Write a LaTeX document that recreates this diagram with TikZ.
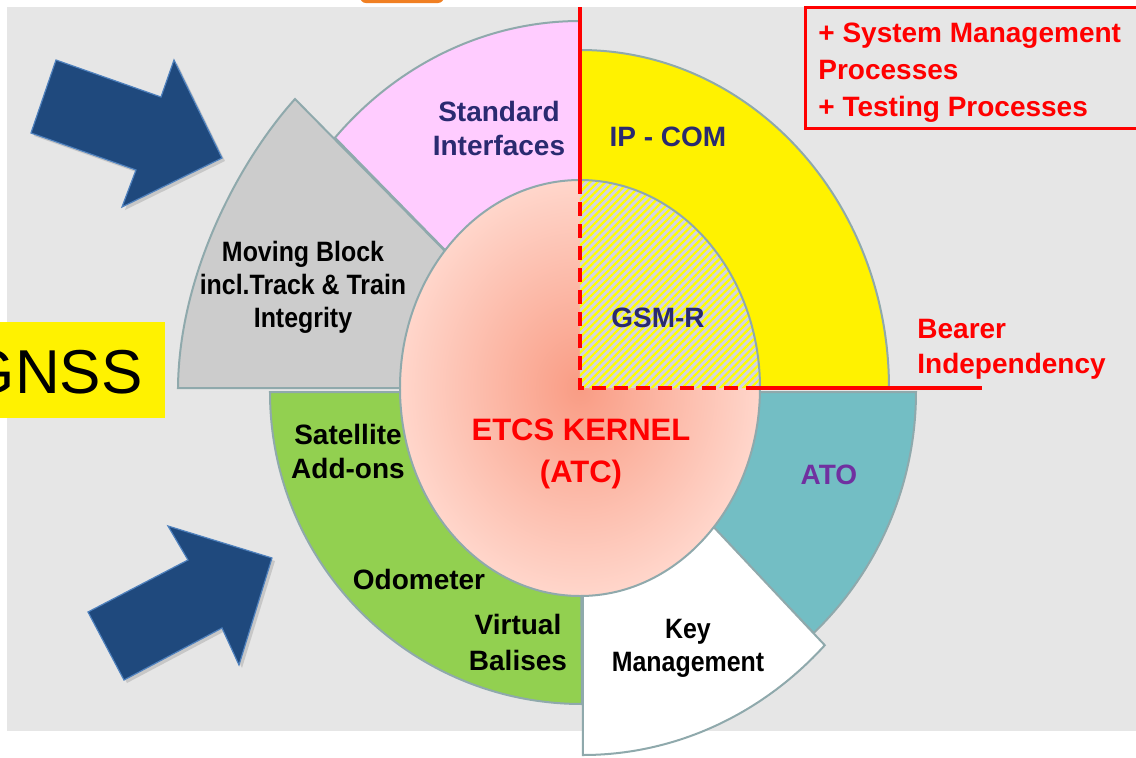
\documentclass[tikz,border=0pt]{standalone}
\usepackage{fontspec}
\setmainfont{Liberation Sans}
\newfontfamily\narrowsans{Liberation Sans}[FakeStretch=0.89]
\usetikzlibrary{patterns.meta,shadows}

\definecolor{panel}{HTML}{E6E6E6}
\definecolor{rim}{HTML}{8FA9AC}
\definecolor{stdpink}{HTML}{FFCCFF}
\definecolor{mbgray}{HTML}{CCCCCC}
\definecolor{satgreen}{HTML}{92D050}
\definecolor{atoteal}{HTML}{73BEC4}
\definecolor{gsmback}{HTML}{D4D4E2}
\definecolor{kernin}{HTML}{F99C84}
\definecolor{kernout}{HTML}{FFD6CB}
\definecolor{navy}{HTML}{2A2A70}
\definecolor{atopurple}{HTML}{7030A0}
\definecolor{arrowblue}{HTML}{1F497D}
\definecolor{arrowrim}{HTML}{4F81BD}
\definecolor{tabor}{HTML}{F07F22}

\begin{document}
\begin{tikzpicture}[x=0.5pt,y=0.5pt,
	sector/.style={draw=rim,line width=1pt},
	seglabel/.style={font=\fontsize{14}{17}\selectfont\bfseries,align=center,inner sep=0pt},
	redtext/.style={font=\fontsize{14}{18.5}\selectfont\bfseries,text=red,align=left,inner sep=0pt},
	bearer/.style={red,line width=2pt},
	bigarrow/.style={fill=arrowblue,draw=arrowrim,line width=0.6pt,
		drop shadow={shadow xshift=1.5pt,shadow yshift=-1.5pt,opacity=0.3}}]
	\clip (-580,-369) rectangle (556,388);
	\fill[white] (-580,-369) rectangle (556,388);
	\fill[panel] (-573,381) rectangle (556,-343);
	\fill[tabor,rounded corners=3pt] (-220,396) rectangle (-136,385);

	% outer ring
	\draw[sector,fill=satgreen] (0,-4) -- (-310,-4) arc[start angle=180,end angle=270,radius=312] -- cycle;
	\draw[sector,fill=atoteal] (0,-4) -- (336,-4) arc[start angle=0,end angle=-46,radius=335] -- cycle;
	\draw[sector,fill=white] (3,0) -- ++(-44.5:339 and 367) arc[start angle=-44.5,end angle=-90,x radius=339,y radius=367] -- cycle;
	\draw[sector,fill=yellow] (0,0) -- (309,0) arc[start angle=0,end angle=90,x radius=309,y radius=338] -- cycle;
	\draw[sector,fill=stdpink] (0,0) -- (0,367) arc[start angle=90,end angle=137,x radius=335,y radius=367] -- cycle;
	\draw[sector,fill=mbgray] (0,0) -- (-402,0) .. controls (-401,115) and (-340,228) .. (-285,289) -- cycle;

	% kernel
	\shade[inner color=kernin,outer color=kernout] (0,0) ellipse[x radius=180,y radius=208];
	\fill[gsmback] (0,0) -- (180,0) arc[start angle=0,end angle=90,x radius=180,y radius=208] -- cycle;
	\fill[pattern={Lines[angle=45,distance=2.7pt,line width=1.1pt]},pattern color=yellow] (0,0) -- (180,0) arc[start angle=0,end angle=90,x radius=180,y radius=208] -- cycle;
	\draw[sector] (0,0) ellipse[x radius=180,y radius=208];

	% bearer independency
	\draw[bearer] (0,381) -- (0,208);
	\draw[bearer,dash pattern=on 7pt off 4pt] (0,208) -- (0,0) -- (180,0);
	\draw[bearer] (180,0) -- (402,0);
	\draw[red,line width=1.5pt] (225,381) rectangle (580,260);

	\draw[bigarrow] (-524,328) -- (-419,291) -- (-406,328) -- (-358,230) -- (-458,181) -- (-444,218) -- (-549,255) -- cycle;
	\draw[bigarrow] (-492,-224) -- (-392,-172) -- (-412,-138) -- (-308,-170) -- (-341,-277) -- (-358,-240) -- (-456,-292) -- cycle;

	\fill[yellow] (-580,66) rectangle (-415,-30);
	\node[font=\fontsize{31}{31}\selectfont,anchor=base east,inner sep=0pt] (gnss) at (-437,-5) {GNSS};

	\node[seglabel,text=navy] (std) at (-81,260) {Standard\\Interfaces};
	\node[seglabel,text=navy] (ipcom) at (88,251) {IP - COM};
	\node[seglabel,text=navy] (gsmr) at (78,70) {GSM-R};
	\node[seglabel,font=\narrowsans\fontsize{14}{16.5}\selectfont\bfseries] (moving) at (-277,101) {Moving Block\\incl.Track \& Train\\Integrity};
	\node[seglabel] (sat) at (-232,-63) {Satellite\\Add-ons};
	\node[seglabel,font=\fontsize{15.5}{21}\selectfont\bfseries,text=red] (kernel) at (1,-66) {ETCS KERNEL\\(ATC)};
	\node[seglabel,text=atopurple] (ato) at (249,-87) {ATO};
	\node[seglabel] (odo) at (-161,-191) {Odometer};
	\node[seglabel,font=\fontsize{14}{18}\selectfont\bfseries] (virt) at (-62,-254) {Virtual\\Balises};
	\node[seglabel,font=\narrowsans\fontsize{14}{16.5}\selectfont\bfseries] (key) at (108,-260) {Key\\Management};
	\node[redtext,anchor=west,font=\fontsize{14}{17.5}\selectfont\bfseries] (bearer) at (337,39) {Bearer\\Independency};
	\node[redtext,anchor=west] (procs) at (238,315) {+ System Management\\Processes\\+ Testing Processes};
\end{tikzpicture}
\end{document}
